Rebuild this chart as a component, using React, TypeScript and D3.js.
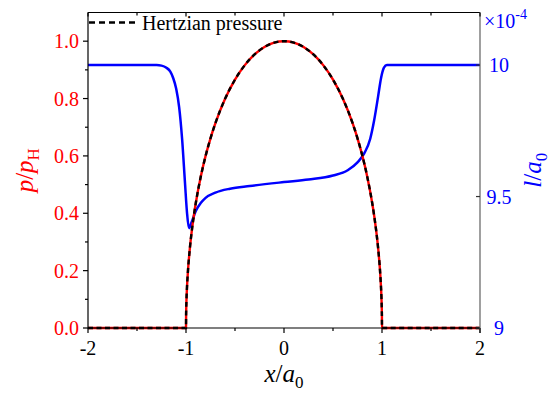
import React from "react";
import * as d3 from "d3";

// Pressure (computed) and Hertzian reference, p/pH vs x/a0
const pressX = [-2, -1.5, -1.01, -1.0, -0.999, -0.998, -0.995, -0.99, -0.98, -0.96, -0.94, -0.92, -0.9, -0.85, -0.8, -0.75, -0.7, -0.6, -0.5, -0.4, -0.3, -0.2, -0.1, 0, 0.1, 0.2, 0.3, 0.4, 0.5, 0.6, 0.7, 0.75, 0.8, 0.85, 0.9, 0.92, 0.94, 0.96, 0.98, 0.99, 0.995, 0.998, 0.999, 1.0, 1.01, 1.5, 2];
const pressY = [0, 0, 0, 0, 0.0447, 0.0632, 0.0999, 0.1411, 0.199, 0.28, 0.3412, 0.3919, 0.4359, 0.5268, 0.6, 0.6614, 0.7141, 0.8, 0.866, 0.9165, 0.9539, 0.9798, 0.995, 1, 0.995, 0.9798, 0.9539, 0.9165, 0.866, 0.8, 0.7141, 0.6614, 0.6, 0.5268, 0.4359, 0.3919, 0.3412, 0.28, 0.199, 0.1411, 0.0999, 0.0632, 0.0447, 0, 0, 0, 0];

// l/a0 (x 1e-4) vs x/a0
const filmX = [-2, -1.3, -1.25, -1.2, -1.16, -1.13, -1.1, -1.07, -1.04, -1.01, -0.99, -0.97, -0.94, -0.9, -0.85, -0.8, -0.7, -0.55, -0.35, 0, 0.25, 0.5, 0.65, 0.75, 0.82, 0.88, 0.92, 0.96, 0.99, 1.02, 1.05, 1.1, 2];
const filmY = [10, 10, 9.998, 9.99, 9.975, 9.95, 9.91, 9.84, 9.72, 9.55, 9.44, 9.38, 9.405, 9.445, 9.475, 9.495, 9.515, 9.53, 9.54, 9.555, 9.565, 9.58, 9.6, 9.63, 9.665, 9.72, 9.79, 9.88, 9.95, 9.99, 10, 10, 10];

const xTicks = [-2, -1, 0, 1, 2];
const xMinor = [-1.5, -0.5, 0.5, 1.5];
const leftTicks = [0, 0.2, 0.4, 0.6, 0.8, 1.0];
const leftMinor = [0.1, 0.3, 0.5, 0.7, 0.9];
const rightTicks = [9, 9.5, 10];
const rightLabels = ["9", "9.5", "10"];
const legendLabel = "Hertzian pressure";

const W = 553, H = 393;
const L = 88, R = 480, T = 12.5, B = 328;
const FONT = "Liberation Serif, Times New Roman, DejaVu Serif, serif";

export default function App() {
  const x = d3.scaleLinear().domain([-2, 2]).range([L, R]);
  const yL = d3.scaleLinear().domain([0, 1.1]).range([B, T]);
  const yR = d3.scaleLinear().domain([9, 10.2]).range([B, T]);

  const press = pressX.map((v, i) => [v, pressY[i]] as [number, number]);
  const film = filmX.map((v, i) => [v, filmY[i]] as [number, number]);

  const lineL = d3.line<[number, number]>().x(d => x(d[0])).y(d => yL(d[1])).curve(d3.curveMonotoneX);
  const lineR = d3.line<[number, number]>().x(d => x(d[0])).y(d => yR(d[1])).curve(d3.curveMonotoneX);

  const ts = { fontFamily: FONT } as React.CSSProperties;

  return (
    <svg width={W} height={H} style={{ position: "absolute", left: 0, top: 0, background: "#fff", fontFamily: FONT }}>
      <rect x={0} y={0} width={W} height={H} fill="#fff" />
      {/* curves */}
      <path d={lineR(film) || ""} fill="none" stroke="#0000ff" strokeWidth={2.5} />
      <path d={lineL(press) || ""} fill="none" stroke="#ff0000" strokeWidth={2.4} />
      <path d={lineL(press) || ""} fill="none" stroke="#000" strokeWidth={2.4} strokeDasharray="5,3.5" />

      {/* frame */}
      <line x1={L} x2={R} y1={T} y2={T} stroke="#000" strokeWidth={1.2} />
      <line x1={L} x2={R} y1={B} y2={B} stroke="#000" strokeWidth={1.2} />
      <line x1={L} x2={L} y1={T} y2={B + 0.6} stroke="#000" strokeWidth={1.2} />
      <line x1={R} x2={R} y1={T} y2={B + 5} stroke="#777" strokeWidth={1.4} />

      {/* bottom axis */}
      {xTicks.map(t => (
        <g key={"xb" + t}>
          <line x1={x(t)} x2={x(t)} y1={B} y2={B + 5} stroke="#000" strokeWidth={1.2} />
          <line x1={x(t)} x2={x(t)} y1={T} y2={T + 4} stroke="#000" strokeWidth={1.2} />
          <text style={ts} x={x(t)} y={355} fontSize={20} textAnchor="middle" fill="#000">{String(t)}</text>
        </g>
      ))}
      {xMinor.map(t => (
        <g key={"xm" + t}>
          <line x1={x(t)} x2={x(t)} y1={B} y2={B + 3} stroke="#000" strokeWidth={1.2} />
          <line x1={x(t)} x2={x(t)} y1={T} y2={T + 3} stroke="#000" strokeWidth={1.2} />
        </g>
      ))}

      {/* left axis */}
      {leftTicks.map(t => (
        <g key={"yl" + t}>
          <line x1={L - 5} x2={L} y1={yL(t)} y2={yL(t)} stroke="#000" strokeWidth={1.2} />
          <text style={ts} x={79} y={yL(t) + 7} fontSize={20} textAnchor="end" fill="#ff0000">{t.toFixed(1)}</text>
        </g>
      ))}
      {leftMinor.map(t => (
        <line key={"ylm" + t} x1={L - 3} x2={L} y1={yL(t)} y2={yL(t)} stroke="#000" strokeWidth={1.2} />
      ))}

      {/* right axis */}
      {rightTicks.map((t, i) => (
        <g key={"yr" + t}>
          <line x1={R - 4} x2={R} y1={yR(t)} y2={yR(t)} stroke="#333" strokeWidth={1.2} />
          <text style={ts} x={499} y={yR(t) + 7} fontSize={20} textAnchor="middle" fill="#0000ff">{rightLabels[i]}</text>
        </g>
      ))}
      <text style={ts} x={484} y={28} fontSize={20} fill="#0000ff">×10<tspan dy={-9} fontSize={14}>-4</tspan></text>

      {/* legend */}
      <line x1={89} x2={138} y1={22.5} y2={22.5} stroke="#000" strokeWidth={2.4} strokeDasharray="6,4" />
      <text style={ts} x={142} y={30} fontSize={20} fill="#000">{legendLabel}</text>

      {/* axis titles */}
      <text style={ts} x={284} y={382} fontSize={25} textAnchor="middle" fill="#000">
        <tspan fontStyle="italic">x</tspan>/<tspan fontStyle="italic">a</tspan><tspan fontSize={17} dy={6}>0</tspan>
      </text>
      <text style={ts} transform={`translate(33,${(T + B) / 2}) rotate(-90)`} fontSize={25} textAnchor="middle" fill="#ff0000">
        <tspan fontStyle="italic">p</tspan>/<tspan fontStyle="italic">p</tspan><tspan fontSize={17} dy={6}>H</tspan>
      </text>
      <text style={ts} transform={`translate(541,${(T + B) / 2}) rotate(-90)`} fontSize={25} textAnchor="middle" fill="#0000ff">
        <tspan fontStyle="italic">l</tspan>/<tspan fontStyle="italic">a</tspan><tspan fontSize={17} dy={6}>0</tspan>
      </text>
    </svg>
  );
}
